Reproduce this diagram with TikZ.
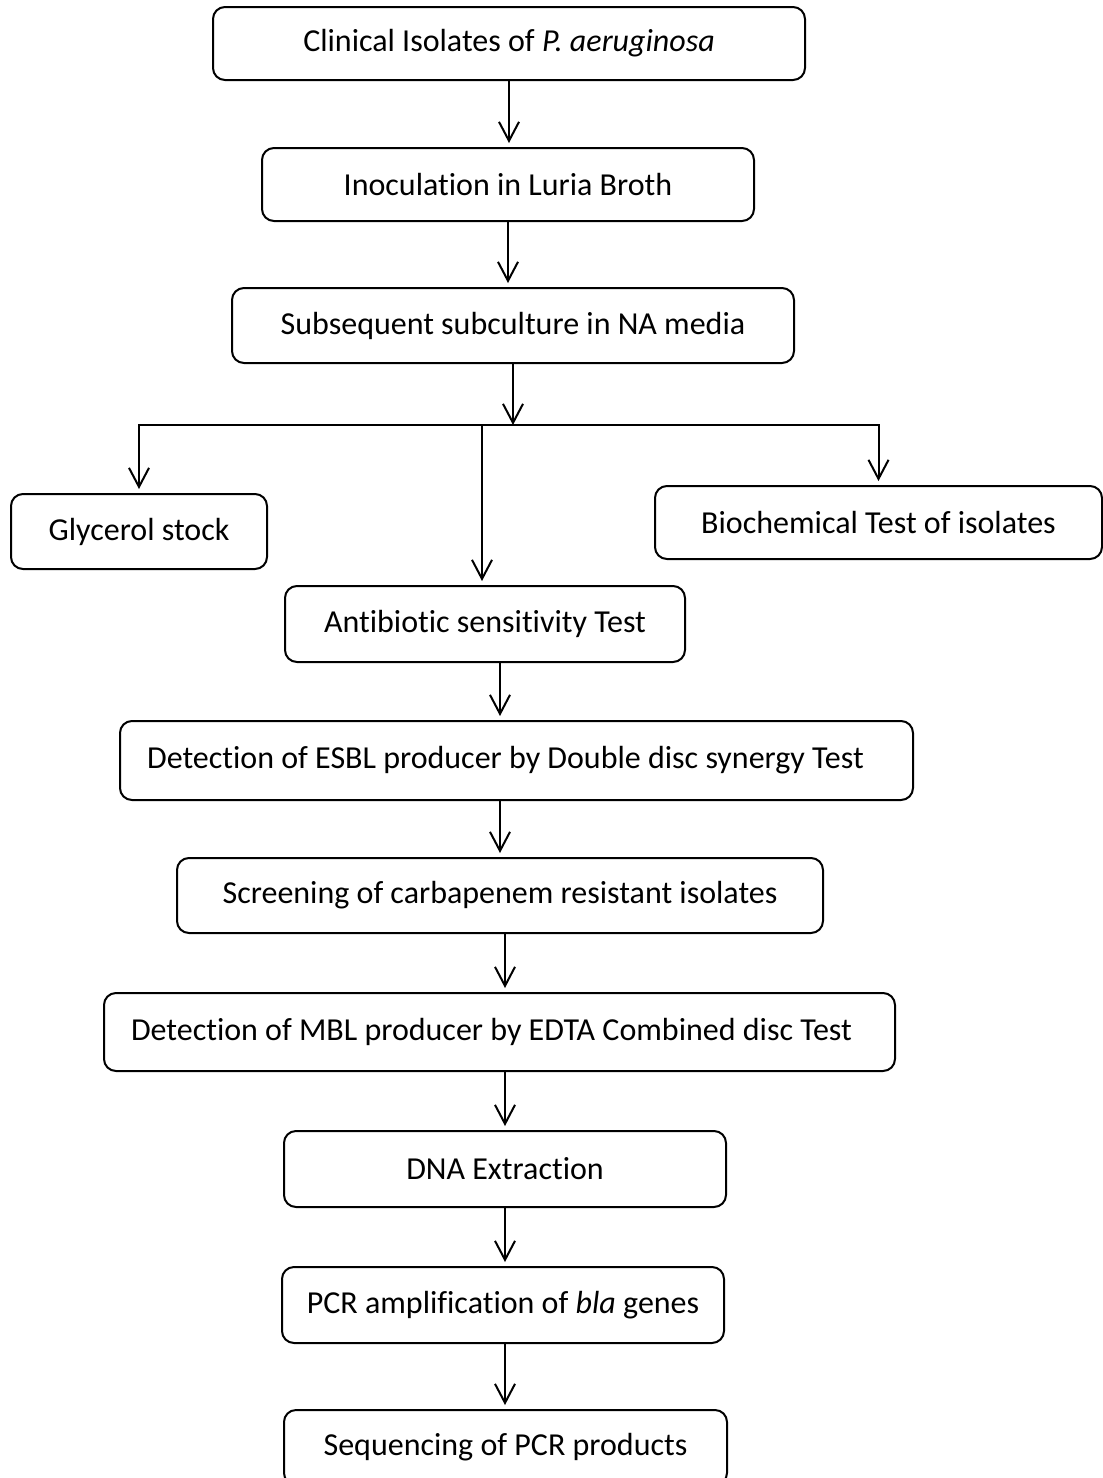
\documentclass[tikz,border=0pt]{standalone}
\usepackage{fontspec}
\setmainfont[Ligatures=NoCommon]{Carlito}
\usetikzlibrary{arrows.meta, positioning}
\tikzset{
	every node/.style={
		font=\fontsize{16}{19}\selectfont
	},
	stage/.style={
		shape=rectangle,
		minimum height=37.5pt,
		inner sep=0pt,
		text centered,
		rounded corners=6pt,
		line width=1pt,
		draw,
	},
	myarrow/.style={-{Straight Barb[length=9.5pt,width=10pt]}, line width=1pt, shorten >=2pt},
}

\begin{document}
\begin{tikzpicture}[x=0.5pt,y=-0.5pt]
	\useasboundingbox (0,0) rectangle (1103,1478);
	
	% Cajas de la parte superior
	\node[stage, minimum width=296pt, minimum height=36.5pt] (clin)   at (509,43.5)  {Clinical Isolates of \textit{P. aeruginosa}};
	\node[stage, minimum width=246pt, minimum height=36.5pt] (inoc)   at (508,184.5) {Inoculation in Luria Broth};
	\node[stage, minimum width=281pt]                        (sub)    at (513,325.5) {Subsequent subculture in NA media};
	
	% Ramas
	\coordinate (split) at (512,425);
	\node[stage, minimum width=128pt]                        (glyc)   at (139,531.5) {Glycerol stock};
	\node[stage, minimum width=223.5pt, minimum height=36.5pt] (bio)  at (878.5,522.5) {Biochemical Test of isolates};
	\node[stage, minimum width=200pt, minimum height=38pt]   (anti)   at (485,624)   {Antibiotic sensitivity Test};
	
	% Cajas de la parte inferior
	\node[stage, minimum width=396.5pt, minimum height=39.5pt,
		label={[xshift=-5.5pt]center:Detection of ESBL producer by Double disc synergy Test}] (esbl) at (516.5,760.5) {};
	\node[stage, minimum width=323pt]                        (screen) at (500,895.5) {Screening of carbapenem resistant isolates};
	\node[stage, minimum width=395.5pt, minimum height=39pt,
		label={[xshift=-4pt]center:Detection of MBL producer by EDTA Combined disc Test}] (mbl) at (499.5,1032) {};
	\node[stage, minimum width=221pt, minimum height=38pt]   (dna)    at (505,1169)  {DNA Extraction};
	\node[stage, minimum width=221pt, minimum height=38pt]   (pcr)    at (503,1305)  {PCR amplification of \textit{bla} genes};
	\node[stage, minimum width=221.5pt]                      (seq)    at (505.5,1447.5) {Sequencing of PCR products};
	
	% Flechas
	\draw[myarrow] (clin.south) -- (clin.south |- inoc.north);
	\draw[myarrow] (inoc.south) -- (inoc.south |- sub.north);
	\draw[myarrow, shorten >=0pt] (sub.south) -- (sub.south |- split);
	\draw[myarrow] (split) -| (glyc.north);
	\draw[myarrow] (split) -| (bio.north);
	\draw[myarrow] ([xshift=-1.5pt]anti.north |- split) -- ([xshift=-1.5pt]anti.north);
	\draw[myarrow] ([xshift=7.5pt]anti.south) -- ([xshift=7.5pt]anti.south |- esbl.north);
	\draw[myarrow] (screen.north |- esbl.south) -- (screen.north);
	\draw[myarrow] (dna.north |- screen.south) -- (dna.north |- mbl.north);
	\draw[myarrow] (dna.north |- mbl.south) -- (dna.north);
	\draw[myarrow] (dna.south) -- (dna.south |- pcr.north);
	\draw[myarrow] (dna.south |- pcr.south) -- (dna.south |- seq.north);
	
\end{tikzpicture}
\end{document}
